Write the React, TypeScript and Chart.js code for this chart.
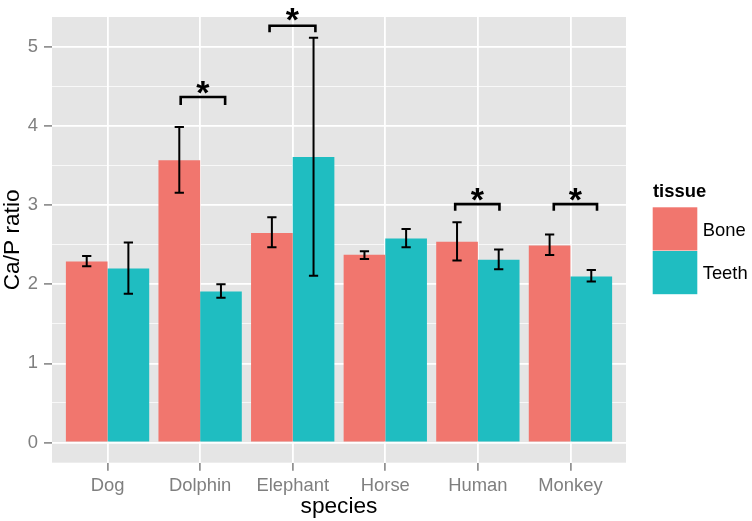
import React, { useEffect, useRef } from 'react';
import { Chart, registerables } from 'chart.js';

Chart.register(...registerables);

const FAMILY = '"Liberation Sans", Arial, Helvetica, sans-serif';

// ---- data ----
const species = ['Dog', 'Dolphin', 'Elephant', 'Horse', 'Human', 'Monkey'];
const tissues = ['Bone', 'Teeth'];
const boneMean = [2.29, 3.57, 2.65, 2.375, 2.54, 2.49];
const boneLow = [2.23, 3.16, 2.47, 2.32, 2.3, 2.37];
const boneHigh = [2.36, 3.99, 2.85, 2.42, 2.785, 2.63];
const teethMean = [2.2, 1.91, 3.61, 2.58, 2.31, 2.1];
const teethLow = [1.88, 1.83, 2.11, 2.47, 2.19, 2.035];
const teethHigh = [2.53, 2.0, 5.12, 2.7, 2.44, 2.18];
const yMajorTicks = [0, 1, 2, 3, 4, 5];
const yMinorTicks = [0.5, 1.5, 2.5, 3.5, 4.5];

// significance brackets
const sigSpecies = ['Dolphin', 'Elephant', 'Human', 'Monkey'];
const sigFrom = [-0.21, -0.25, -0.245, -0.18];
const sigTo = [0.27, 0.245, 0.233, 0.287];
const sigBar = [4.37, 5.27, 3.015, 3.015];
const sigLeg = [4.27, 5.19, 2.93, 2.93];
const sigStar = [4.49, 5.41, 3.14, 3.14];
const sigLabel = '*';

const COLORS = ['#F1766E', '#1FBDC1'];
const GREY_TEXT = '#7F7F7F';

const panelBg = {
  id: 'panelBg',
  beforeDraw(chart: any) {
    const { ctx, chartArea: a } = chart;
    ctx.save();
    ctx.fillStyle = '#E5E5E5';
    ctx.fillRect(a.left, a.top, a.right - a.left, a.bottom - a.top);
    ctx.restore();
  },
};

const errorBars = {
  id: 'errorBars',
  afterDatasetsDraw(chart: any) {
    const { ctx } = chart;
    const xs = chart.scales.x;
    const ys = chart.scales.y;
    const half = (xs.getPixelForValue(0.1) - xs.getPixelForValue(0)) / 2;
    const lows = [boneLow, teethLow];
    const highs = [boneHigh, teethHigh];
    ctx.save();
    ctx.strokeStyle = '#000';
    ctx.lineWidth = 2;
    chart.data.datasets.forEach((_: any, di: number) => {
      const meta = chart.getDatasetMeta(di);
      meta.data.forEach((bar: any, i: number) => {
        const x = bar.x;
        const y1 = ys.getPixelForValue(lows[di][i]);
        const y2 = ys.getPixelForValue(highs[di][i]);
        ctx.beginPath();
        ctx.moveTo(x, y1);
        ctx.lineTo(x, y2);
        ctx.moveTo(x - half, y1);
        ctx.lineTo(x + half, y1);
        ctx.moveTo(x - half, y2);
        ctx.lineTo(x + half, y2);
        ctx.stroke();
      });
    });
    // significance brackets
    ctx.lineWidth = 2.6;
    ctx.lineJoin = 'miter';
    ctx.font = `bold 34px ${FAMILY}`;
    ctx.fillStyle = '#000';
    ctx.textAlign = 'center';
    ctx.textBaseline = 'alphabetic';
    const m = ctx.measureText(sigLabel);
    const asc = m.actualBoundingBoxAscent;
    const desc = m.actualBoundingBoxDescent;
    sigSpecies.forEach((sp, k) => {
      const c = species.indexOf(sp);
      const xa = xs.getPixelForValue(c + sigFrom[k]);
      const xb = xs.getPixelForValue(c + sigTo[k]);
      const yb = ys.getPixelForValue(sigBar[k]);
      const yl = ys.getPixelForValue(sigLeg[k]);
      ctx.beginPath();
      ctx.moveTo(xa, yl);
      ctx.lineTo(xa, yb);
      ctx.lineTo(xb, yb);
      ctx.lineTo(xb, yl);
      ctx.stroke();
      const yc = ys.getPixelForValue(sigStar[k]);
      ctx.fillText(sigLabel, (xa + xb) / 2, yc + (asc - desc) / 2);
    });
    ctx.restore();
  },
};

const sideLegend = {
  id: 'sideLegend',
  afterDraw(chart: any) {
    const { ctx } = chart;
    ctx.save();
    ctx.fillStyle = '#000';
    ctx.textAlign = 'left';
    ctx.textBaseline = 'alphabetic';
    ctx.font = `bold 18.4px ${FAMILY}`;
    ctx.fillText('tissue', 653, 196.7);
    const boxX = 652.7;
    const boxW = 44.6;
    const boxTop = [207.3, 251.0];
    const boxH = 43.2;
    const labelBase = [235.7, 279.2];
    ctx.font = `18.4px ${FAMILY}`;
    chart.data.datasets.forEach((ds: any, i: number) => {
      ctx.fillStyle = ds.backgroundColor;
      ctx.fillRect(boxX, boxTop[i], boxW, boxH);
      ctx.fillStyle = '#000';
      ctx.fillText(ds.label, 702.7, labelBase[i]);
    });
    ctx.restore();
  },
};

export default function App() {
  const ref = useRef<HTMLCanvasElement | null>(null);

  useEffect(() => {
    const prevMargin = document.body.style.margin;
    document.body.style.margin = '0';
    const canvas = ref.current;
    if (!canvas) return;
    const isMajor = (v: number) => Math.abs(v - Math.round(v)) < 1e-9;
    const chart = new Chart(canvas, {
      type: 'bar',
      data: {
        datasets: [
          {
            label: tissues[0],
            data: species.map((_, i) => ({ x: i, y: boneMean[i] })),
            backgroundColor: COLORS[0],
            borderWidth: 0,
          },
          {
            label: tissues[1],
            data: species.map((_, i) => ({ x: i, y: teethMean[i] })),
            backgroundColor: COLORS[1],
            borderWidth: 0,
          },
        ],
      },
      options: {
        responsive: false,
        animation: false,
        devicePixelRatio: 1,
        categoryPercentage: 0.9,
        barPercentage: 1.0,
        layout: { padding: { top: 14, right: 126, left: 0, bottom: 0 } },
        plugins: {
          legend: { display: false },
          tooltip: { enabled: false },
        },
        scales: {
          x: {
            type: 'linear',
            min: -0.6,
            max: 5.6,
            offset: false,
            afterBuildTicks: (s: any) => {
              s.ticks = species.map((_, i) => ({ value: i }));
            },
            afterFit: (s: any) => {
              s.height = 521 - 462.7;
            },
            border: { display: false },
            grid: {
              offset: false,
              color: '#FFFFFF',
              lineWidth: 1.8,
              tickColor: GREY_TEXT,
              tickLength: 8,
              tickWidth: 1.5,
            },
            ticks: {
              callback: (v: any) => species[Math.round(Number(v))] ?? '',
              color: GREY_TEXT,
              font: { family: FAMILY, size: 18.4 },
              padding: 4,
              maxRotation: 0,
              autoSkip: false,
            },
            title: {
              display: true,
              text: 'species',
              color: '#000',
              font: { family: FAMILY, size: 22.7, lineHeight: 1.2 },
              padding: { top: 0, bottom: 1 },
            },
          },
          y: {
            type: 'linear',
            min: -0.256,
            max: 5.381,
            afterBuildTicks: (s: any) => {
              s.ticks = [...yMajorTicks, ...yMinorTicks]
                .sort((a, b) => a - b)
                .map((v) => ({ value: v }));
            },
            afterFit: (s: any) => {
              s.width = 52;
            },
            border: { display: false },
            grid: {
              color: (c: any) => (isMajor(c.tick.value) ? '#FFFFFF' : 'rgba(255,255,255,0.8)'),
              lineWidth: (c: any) => (isMajor(c.tick.value) ? 1.8 : 0.9),
              tickColor: (c: any) => (isMajor(c.tick.value) ? GREY_TEXT : 'rgba(0,0,0,0)'),
              tickLength: 8,
              tickWidth: 1.5,
            },
            ticks: {
              callback: (v: any) => (isMajor(Number(v)) ? String(Math.round(Number(v))) : ''),
              color: GREY_TEXT,
              font: { family: FAMILY, size: 18.4 },
              padding: 6,
              autoSkip: false,
            },
            title: {
              display: true,
              text: 'Ca/P ratio',
              color: '#000',
              font: { family: FAMILY, size: 22.7, lineHeight: 1.0 },
              padding: { top: 1, bottom: 0 },
            },
          },
        },
      },
      plugins: [panelBg, errorBars, sideLegend],
    } as any);
    return () => {
      chart.destroy();
      document.body.style.margin = prevMargin;
    };
  }, []);

  return (
    <div style={{ position: 'fixed', left: 0, top: 0, width: 752, height: 521, background: '#FFFFFF' }}>
      <canvas ref={ref} width={752} height={521} style={{ width: 752, height: 521, display: 'block' }} />
    </div>
  );
}
